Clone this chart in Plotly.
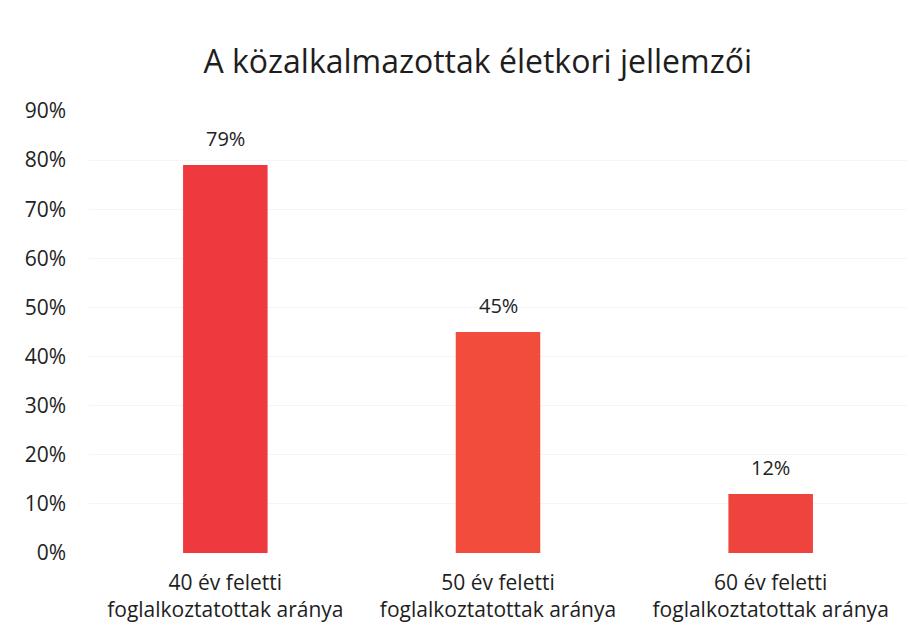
import plotly.graph_objects as go

categories = ["40 év feletti<br>foglalkoztatottak aránya",
              "50 év feletti<br>foglalkoztatottak aránya",
              "60 év feletti<br>foglalkoztatottak aránya"]
values = [0.79, 0.45, 0.12]
bar_colors = ["#ee3a3e", "#f24c3c", "#ef433d"]
y_ticks = [0, 0.1, 0.2, 0.3, 0.4, 0.5, 0.6, 0.7, 0.8, 0.9]

font_family = "'Open Sans', Lato, sans-serif"

fig = go.Figure(go.Bar(
    x=categories, y=values,
    marker=dict(color=bar_colors, line=dict(width=0)),
    hoverinfo="x+y",
))

for c, v in zip(categories, values):
    fig.add_annotation(x=c, y=v, text=f"{v:.0%}", showarrow=False,
                       yanchor="bottom", yshift=11,
                       font=dict(size=20, color="#222222", family=font_family))

fig.update_layout(
    width=921, height=628,
    margin=dict(l=81, r=22, t=103, b=83),
    paper_bgcolor="white", plot_bgcolor="white",
    bargap=0.69,
    title=dict(text="A közalkalmazottak életkori jellemzői",
               x=0.51, xanchor="center", y=0.915, yanchor="middle",
               font=dict(size=32, color="#1e1e1e", family=font_family)),
    font=dict(family=font_family, color="#222222"),
    showlegend=False,
)
fig.update_yaxes(range=[0, 0.9], tickvals=y_ticks, tickformat=".0%",
                 showgrid=True, gridcolor="#f5f5f5", zeroline=False,
                 tickfont=dict(size=21, color="#222222"), ticklen=0,
                 ticklabelstandoff=22)
fig.update_xaxes(tickfont=dict(size=21, color="#1e1e1e"), showline=False,
                 ticklabelstandoff=15)

fig.write_html("out.html")
